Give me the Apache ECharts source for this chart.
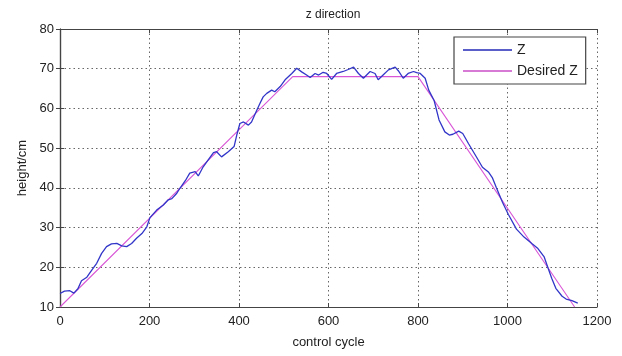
<!DOCTYPE html>
<html><head><meta charset="utf-8">
<script src="https://cdn.jsdelivr.net/npm/echarts@6/dist/echarts.min.js"></script>
<style>html,body{margin:0;padding:0;background:#fff}#c{width:622px;height:356px}</style>
</head><body><div id="c"></div>
<script>
const xTicks = [0, 200, 400, 600, 800, 1000, 1200];
const yTicks = [10, 20, 30, 40, 50, 60, 70, 80];
const zCycle = [0,10,22,31,40,48,60,71,82,93,104,115,127,138,149,160,171,183,194,201,216,231,242,250,260,268,280,290,302,309,320,332,343,350,361,376,389,395,402,410,421,428,440,447,454,462,473,480,492,503,518,529,540,551,559,570,578,588,596,607,618,633,644,656,667,678,693,704,711,722,734,749,756,767,778,790,797,805,816,824,836,847,860,870,878,891,900,913,931,944,958,966,975,989,1002,1020,1037,1055,1068,1082,1091,1099,1108,1122,1131,1144,1157];
const zHeight = [13.4,14.0,14.1,13.5,14.6,16.6,17.5,19.3,21,23.5,25.2,25.9,26,25.4,25.2,26,27.3,28.5,30.2,32.5,34.4,35.7,37,37.3,38.5,39.9,41.8,43.7,44.1,43,45.3,47.2,48.9,49.1,47.8,49.1,50.4,53.3,56.2,56.6,55.8,56.6,59.6,61.3,62.9,63.8,64.6,64.2,65.5,67.2,68.8,70.1,69.2,68.4,67.8,68.8,68.4,69.1,68.8,67.3,68.8,69.3,69.8,70.4,68.8,67.6,69.3,68.8,67.2,68.4,69.7,70.4,69.5,67.6,68.8,69.3,69.0,68.8,67.6,64.6,62.0,57.1,54.1,53.3,53.5,54.3,53.7,51.1,47.7,45.2,43.9,42.6,40.1,36.3,33.3,29.6,27.6,25.9,24.7,22.6,19.7,17.2,14.7,12.7,12.0,11.6,11.0];
const desiredCycle = [0, 520, 800, 1150];
const desiredHeight = [10, 68, 68, 10];

const zData = zCycle.map((c, i) => [c, zHeight[i]]);
const dData = desiredCycle.map((c, i) => [c, desiredHeight[i]]);

const font = 'Liberation Sans, Arial, sans-serif';
const frame = {show: true, lineStyle: {color: '#444', width: 1.2}};
const tick = {show: true, inside: true, length: 4, lineStyle: {color: '#444'}};
const grid = {show: true, lineStyle: {color: '#666', type: [1.5, 3], width: 1}};
const lab = {color: '#222', fontSize: 13, fontFamily: font};

const chart = echarts.init(document.getElementById('c'));
chart.setOption({
  animation: false,
  backgroundColor: '#fff',
  title: {text: 'z direction', left: 328, textAlign: 'center', top: 4,
    textStyle: {fontSize: 12, fontWeight: 'normal', color: '#222', fontFamily: font}},
  grid: {left: 60, right: 25, top: 29, bottom: 49},
  legend: {
    orient: 'vertical', left: 454, top: 37,
    padding: [6, 8, 6, 9], itemGap: 7,
    borderColor: '#444', borderWidth: 1.2, backgroundColor: '#fff',
    icon: 'rect', itemWidth: 49, itemHeight: 2,
    textStyle: {fontSize: 14, color: '#222', fontFamily: font},
    data: ['Z', 'Desired Z']
  },
  xAxis: [
    {type: 'value', min: 0, max: 1200, interval: 200, position: 'bottom',
      name: 'control cycle', nameLocation: 'middle', nameGap: 29,
      nameTextStyle: {fontSize: 13, color: '#222', fontFamily: font},
      axisLine: frame, axisTick: tick, splitLine: grid,
      axisLabel: Object.assign({margin: 8, formatter: v => xTicks.includes(v) ? String(v) : ''}, lab)},
    {type: 'value', min: 0, max: 1200, interval: 200, position: 'top',
      axisLine: frame, axisTick: tick, splitLine: {show: false}, axisLabel: {show: false}}
  ],
  yAxis: [
    {type: 'value', min: 10, max: 80, interval: 10, position: 'left',
      name: 'height/cm', nameLocation: 'middle', nameGap: 31,
      nameTextStyle: {fontSize: 13, color: '#222', fontFamily: font},
      axisLine: frame, axisTick: tick, splitLine: grid,
      axisLabel: Object.assign({margin: 6, formatter: v => yTicks.includes(v) ? String(v) : ''}, lab)},
    {type: 'value', min: 10, max: 80, interval: 10, position: 'right',
      axisLine: frame, axisTick: tick, splitLine: {show: false}, axisLabel: {show: false}}
  ],
  series: [
    {name: 'Z', type: 'line', data: zData, showSymbol: false, symbol: 'none',
      lineStyle: {color: '#3236c8', width: 1.3}, itemStyle: {color: '#5a5ec8'}, z: 3},
    {name: 'Desired Z', type: 'line', data: dData, showSymbol: false, symbol: 'none',
      lineStyle: {color: '#d957d6', width: 1.1}, itemStyle: {color: '#d77ad6'}, z: 2}
  ]
});
</script></body></html>
